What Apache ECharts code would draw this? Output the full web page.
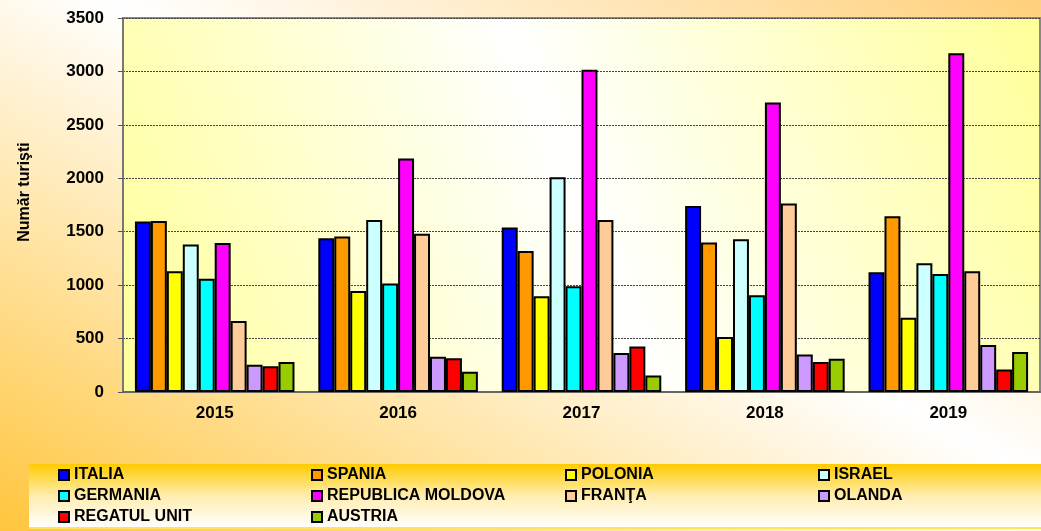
<!DOCTYPE html>
<html>
<head>
<meta charset="utf-8">
<script src="https://cdn.jsdelivr.net/npm/echarts@6/dist/echarts.min.js"></script>
<style>
  html, body { margin: 0; padding: 0; }
  #main {
    width: 1041px;
    height: 531px;
    background: linear-gradient(to top right, #FFC53D 0%, #FFFFFF 55%, #FFD07A 100%);
  }
</style>
</head>
<body>
<div id="main"></div>
<script>
// ani (categorii)
const years = ["2015", "2016", "2017", "2018", "2019"];
const yTicks = [0, 500, 1000, 1500, 2000, 2500, 3000, 3500];

// numar turisti pe tari
const italia = [1595, 1440, 1540, 1740, 1120];
const spania = [1600, 1455, 1320, 1400, 1645];
const polonia = [1130, 945, 895, 515, 695];
const israel = [1380, 1610, 2010, 1430, 1205];
const germania = [1060, 1015, 990, 905, 1105];
const moldova = [1395, 2185, 3015, 2710, 3170];
const franta = [665, 1480, 1610, 1765, 1130];
const olanda = [255, 330, 365, 350, 440];
const regatul = [240, 315, 425, 280, 210];
const austria = [280, 190, 155, 310, 375];

const FONT = "'Liberation Sans', Arial, sans-serif";

const seriesDef = [
  { name: "ITALIA", data: italia, color: "#0000FF" },
  { name: "SPANIA", data: spania, color: "#FF9900" },
  { name: "POLONIA", data: polonia, color: "#FFFF00" },
  { name: "ISRAEL", data: israel, color: "#CCFFFF" },
  { name: "GERMANIA", data: germania, color: "#00FFFF" },
  { name: "REPUBLICA MOLDOVA", data: moldova, color: "#FF00FF" },
  { name: "FRANŢA", data: franta, color: "#FFCC99" },
  { name: "OLANDA", data: olanda, color: "#CC99FF" },
  { name: "REGATUL UNIT", data: regatul, color: "#FF0000" },
  { name: "AUSTRIA", data: austria, color: "#99CC00" }
];

// coloanele legendei
const legendCols = [
  { left: 58, data: ["ITALIA", "GERMANIA", "REGATUL UNIT"] },
  { left: 311, data: ["SPANIA", "REPUBLICA MOLDOVA", "AUSTRIA"] },
  { left: 565, data: ["POLONIA", "FRANŢA"] },
  { left: 818, data: ["ISRAEL", "OLANDA"] }
];

const chart = echarts.init(document.getElementById("main"));

const option = {
  animation: false,
  textStyle: { fontFamily: FONT },
  graphic: [
    {
      // caseta legendei
      type: "rect",
      z: 0,
      shape: { x: 29, y: 464, width: 1012, height: 64 },
      style: {
        fill: new echarts.graphic.LinearGradient(0, 0, 0, 1, [
          { offset: 0, color: "#FFCC00" },
          { offset: 0.5, color: "#FFEDB0" },
          { offset: 1, color: "#FFFFFF" }
        ])
      }
    },
    {
      type: "line",
      z: 0,
      shape: { x1: 29, y1: 528, x2: 1041, y2: 528 },
      style: { stroke: "#FFE35C", lineWidth: 2 }
    }
  ],
  legend: legendCols.map(col => ({
    orient: "vertical",
    left: col.left,
    top: 467,
    padding: 0,
    itemGap: 5,
    itemWidth: 10,
    itemHeight: 10,
    icon: "rect",
    selectedMode: false,
    data: col.data,
    textStyle: {
      fontFamily: FONT,
      fontWeight: "bold",
      fontSize: 16,
      lineHeight: 16,
      color: "#000"
    }
  })),
  grid: {
    left: 123,
    top: 18,
    right: 1,
    bottom: 139,
    show: true,
    borderColor: "#888",
    borderWidth: 2,
    backgroundColor: new echarts.graphic.LinearGradient(0, 1, 1, 0, [
      { offset: 0, color: "#FFFF99" },
      { offset: 0.5, color: "#FFFFFF" },
      { offset: 1, color: "#FFFF99" }
    ])
  },
  xAxis: {
    type: "category",
    data: years,
    axisLine: { lineStyle: { color: "#666", width: 2 } },
    axisTick: { length: 5, lineStyle: { color: "#555" } },
    axisLabel: {
      margin: 13,
      color: "#000",
      fontWeight: "bold",
      fontSize: 17,
      fontFamily: FONT
    }
  },
  yAxis: {
    type: "value",
    min: yTicks[0],
    max: yTicks[yTicks.length - 1],
    interval: 500,
    name: "Număr turişti",
    nameLocation: "middle",
    nameGap: 90,
    nameTextStyle: {
      color: "#000",
      fontWeight: "bold",
      fontSize: 16,
      fontFamily: FONT,
      padding: [0, 0, 0, 26]
    },
    axisLine: { show: true, lineStyle: { color: "#777", width: 2 } },
    axisTick: { show: true, length: 5, lineStyle: { color: "#555" } },
    axisLabel: {
      margin: 19,
      color: "#000",
      fontWeight: "bold",
      fontSize: 17,
      fontFamily: FONT,
      formatter: v => String(v)
    },
    splitLine: { lineStyle: { color: "#444", width: 1, type: [2, 1] } }
  },
  series: seriesDef.map(s => ({
    name: s.name,
    type: "bar",
    data: s.data,
    barGap: "0%",
    barCategoryGap: "13%",
    itemStyle: { color: s.color, borderColor: "#000", borderWidth: 2 }
  }))
};

chart.setOption(option);
</script>
</body>
</html>
